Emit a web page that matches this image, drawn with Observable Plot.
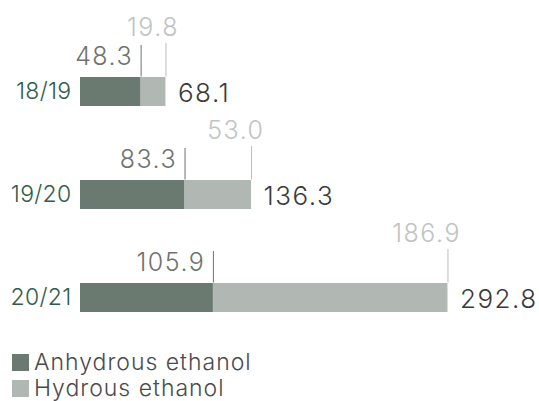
<!DOCTYPE html>
<html>
<head>
<meta charset="utf-8">
<script src="https://cdn.jsdelivr.net/npm/d3@7"></script>
<script src="https://cdn.jsdelivr.net/npm/@observablehq/plot@0.6"></script>
<style>
  html, body { margin: 0; padding: 0; background: #fff; }
  body { width: 539px; height: 401px; overflow: hidden; font-family: "Inter", "Lato", sans-serif; font-weight: 300; }
  #legend { margin: 9px 0 0 12px; font-size: 23px; color: #4a4a4a; line-height: 26px; letter-spacing: 1px; }
  #legend div { display: flex; align-items: center; }
  #legend span.sw { width: 17px; height: 17px; display: inline-block; margin-right: 5px; }
  svg text { letter-spacing: 1.5px; }
  svg g[aria-label="y-axis tick label"] text { letter-spacing: 0.3px; }
</style>
</head>
<body>
<div id="chart"></div>
<div id="legend"></div>
<script>
// Ethanol volumes by harvest season
const seasons = ["18/19", "19/20", "20/21"];
const anhydrous = [48.3, 83.3, 105.9];
const hydrous = [19.8, 53.0, 186.9];
const series = ["Anhydrous ethanol", "Hydrous ethanol"];
const colors = ["#6b7a71", "#b1b8b4"];

const rows = seasons.map((s, i) => ({
  season: s,
  anhydrous: anhydrous[i],
  hydrous: hydrous[i],
  total: +(anhydrous[i] + hydrous[i]).toFixed(1)
}));
const long = rows.flatMap(r => [
  {season: r.season, type: series[0], value: r.anhydrous},
  {season: r.season, type: series[1], value: r.hydrous}
]);

const bw = 29.5;
const fmt = d3.format(".1f");

const chart = Plot.plot({
  width: 539,
  height: 340,
  marginLeft: 80,
  style: {fontFamily: "Inter, Lato, sans-serif", fontWeight: 300, background: "#fff"},
  x: {domain: [0, 300], range: [80, 456.5], axis: null},
  y: {domain: seasons, range: [77, 313], paddingInner: 0.714, paddingOuter: 0, align: 0},
  color: {domain: series, range: colors},
  marks: [
    Plot.axisY({tickSize: 0, tickPadding: 9, fontSize: 23, color: "#2f5d49", label: null}),
    Plot.barX(long, {x: "value", y: "season", fill: "type", order: series}),
    // leader lines rising from the top edge of each bar segment
    Plot.tickX(rows, {x: "anhydrous", y: "season", stroke: "#6e7370", strokeWidth: 1, insetTop: -32, insetBottom: bw}),
    Plot.tickX(rows, {x: "total", y: "season", stroke: "#b8bdbb", strokeWidth: 1, insetTop: -34, insetBottom: bw}),
    Plot.text(rows, {x: "anhydrous", y: "season", text: d => fmt(d.anhydrous), textAnchor: "end", lineAnchor: "bottom", dx: -8, dy: -27, fontSize: 25, fill: "#6e7370"}),
    Plot.text(rows, {x: "total", y: "season", text: d => fmt(d.hydrous), textAnchor: "end", lineAnchor: "bottom", dx: 13, dy: -56, fontSize: 25, fill: "#c0c4c2"}),
    Plot.text(rows, {x: "total", y: "season", text: d => fmt(d.total), textAnchor: "start", lineAnchor: "middle", dx: 12, dy: 2, fontSize: 26, fill: "#3a3a3a"})
  ]
});
document.getElementById("chart").appendChild(chart);

const legend = document.getElementById("legend");
series.forEach((s, i) => {
  const row = document.createElement("div");
  row.innerHTML = `<span class="sw" style="background:${colors[i]}"></span>${s}`;
  legend.appendChild(row);
});
</script>
</body>
</html>
